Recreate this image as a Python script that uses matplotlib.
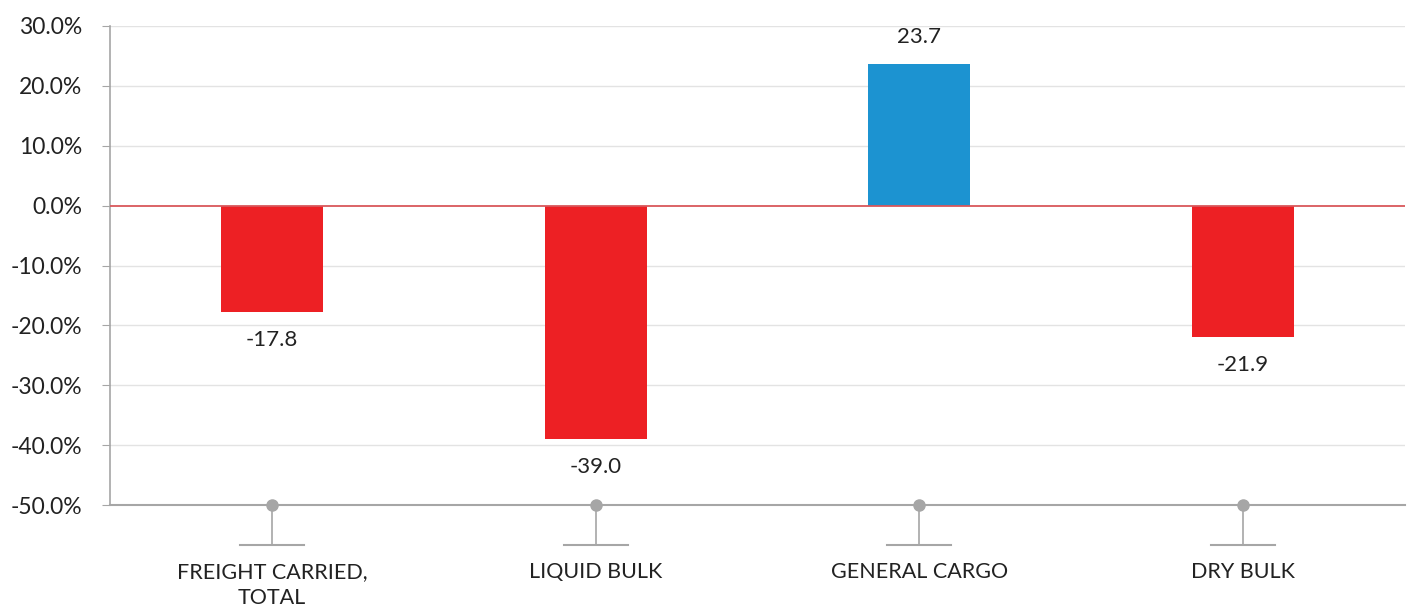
import matplotlib
matplotlib.use('Agg')
import matplotlib.pyplot as plt
from matplotlib.transforms import blended_transform_factory

categories = ['FREIGHT CARRIED,\nTOTAL', 'LIQUID BULK', 'GENERAL CARGO', 'DRY BULK']
values = [-17.8, -39.0, 23.7, -21.9]
y_ticks = [30, 20, 10, 0, -10, -20, -30, -40, -50]

RED = '#ED2024'
BLUE = '#1C93D1'
GREY = '#A6A6A6'
TEXT = '#222222'

plt.rcParams['font.family'] = ['Lato', 'DejaVu Sans']

fig = plt.figure(figsize=(14.08, 6.07), dpi=100)
ax = fig.add_axes([110 / 1408, 102 / 607, 1295 / 1408, 479 / 607])

x = list(range(len(categories)))
colors = [BLUE if v > 0 else RED for v in values]
ax.bar(x, values, width=0.315, color=colors, zorder=3)

for xi, v in zip(x, values):
    off = 19 if v > 0 else -20
    ax.annotate(f'{v:.1f}', (xi, v), xytext=(0, off), textcoords='offset points',
                ha='center', va='center', fontsize=16, color=TEXT)

ax.set_xlim(-0.5, len(categories) - 0.5)
ax.set_ylim(-50, 30)
ax.set_yticks(y_ticks)
ax.set_yticklabels([f'{t:.1f}%' for t in y_ticks], fontsize=16.5, color=TEXT)
ax.tick_params(axis='y', length=6, color=GREY, pad=14)
ax.set_xticks([])

for t in y_ticks:
    if t not in (0, -50):
        ax.axhline(t, color='#E3E3E3', linewidth=1, zorder=1)
ax.axhline(0, color='#D9575B', linewidth=1.3, zorder=4)

for s in ['top', 'right']:
    ax.spines[s].set_visible(False)
ax.spines['left'].set_color(GREY)
ax.spines['bottom'].set_color(GREY)
ax.spines['left'].set_linewidth(1.2)
ax.spines['bottom'].set_linewidth(1.5)

# category ticks: dot on axis, stem, and foot line
tr = blended_transform_factory(ax.transData, ax.transAxes)
stem = 40 / 479
for xi, lab in zip(x, categories):
    ax.plot([xi, xi], [0, -stem], color=GREY, linewidth=1.2, transform=tr, clip_on=False)
    ax.plot([xi - 0.099, xi + 0.099], [-stem, -stem], color=GREY, linewidth=1.5,
            transform=tr, clip_on=False)
    ax.plot([xi], [0], marker='o', markersize=8, color=GREY, transform=tr, clip_on=False,
            zorder=5)
    ax.text(xi, -stem - 0.035, lab, transform=tr, ha='center', va='top', fontsize=15.5,
            color=TEXT, linespacing=1.4)

fig.savefig('out.png', dpi=100)
